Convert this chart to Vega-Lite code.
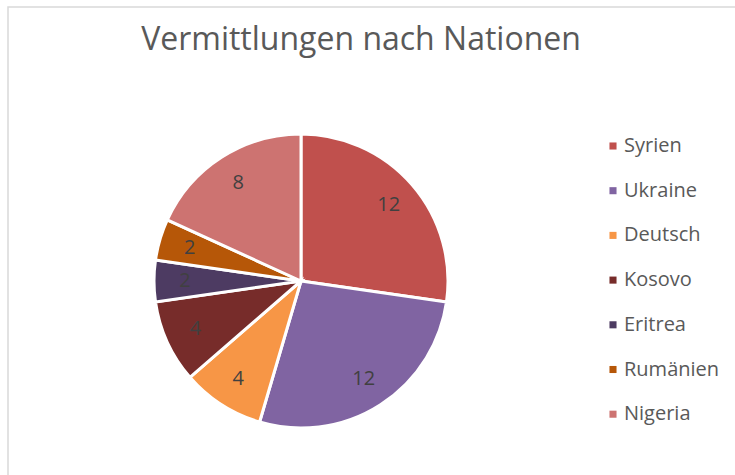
{
  "$schema": "https://vega.github.io/schema/vega-lite/v6.json",
  "autosize": "none",
  "width": 740,
  "height": 480,
  "padding": {"left": 8, "top": 7, "right": 0, "bottom": 0},
  "background": "white",
  "view": {"stroke": "#d9d9d9", "strokeWidth": 1.5, "fill": "white"},
  "title": {"text": "Vermittlungen nach Nationen", "frame": "group", "anchor": "middle", "offset": -50, "dy": 0, "dx": -17, "font": "Open Sans", "fontSize": 32, "fontWeight": "normal", "color": "#595959"},
  "data": {"values": [
    {"nation": "Syrien", "anzahl": 12, "rank": 1},
    {"nation": "Ukraine", "anzahl": 12, "rank": 2},
    {"nation": "Deutsch", "anzahl": 4, "rank": 3},
    {"nation": "Kosovo", "anzahl": 4, "rank": 4},
    {"nation": "Eritrea", "anzahl": 2, "rank": 5},
    {"nation": "Rumänien", "anzahl": 2, "rank": 6},
    {"nation": "Nigeria", "anzahl": 8, "rank": 7}
  ]},
  "encoding": {
    "theta": {"field": "anzahl", "type": "quantitative", "stack": true},
    "order": {"field": "rank", "type": "quantitative"},
    "color": {
      "field": "nation", "type": "nominal",
      "sort": ["Syrien", "Ukraine", "Deutsch", "Kosovo", "Eritrea", "Rumänien", "Nigeria"],
      "scale": {"domain": ["Syrien", "Ukraine", "Deutsch", "Kosovo", "Eritrea", "Rumänien", "Nigeria"],
                "range": ["#c0504d", "#8064a2", "#f79646", "#772c2a", "#4d3b62", "#b65708", "#cd7371"]},
      "legend": {"title": null, "orient": "none", "legendX": 595, "legendY": 129, "symbolType": "square", "symbolSize": 50, "symbolStrokeWidth": 0, "labelFont": "Open Sans", "labelFontSize": 20, "labelColor": "#595959", "rowPadding": 24.7, "labelOffset": 1}
    }
  },
  "layer": [
    {"mark": {"type": "arc", "outerRadius": 147, "stroke": "white", "strokeWidth": 3, "xOffset": -77, "yOffset": 34}},
    {"mark": {"type": "text", "radius": 116, "font": "Open Sans", "fontSize": 20, "fill": "#404040", "xOffset": -77, "yOffset": 34},
     "encoding": {"text": {"field": "anzahl", "type": "quantitative"}, "color": {"value": "#404040"}}}
  ]
}
